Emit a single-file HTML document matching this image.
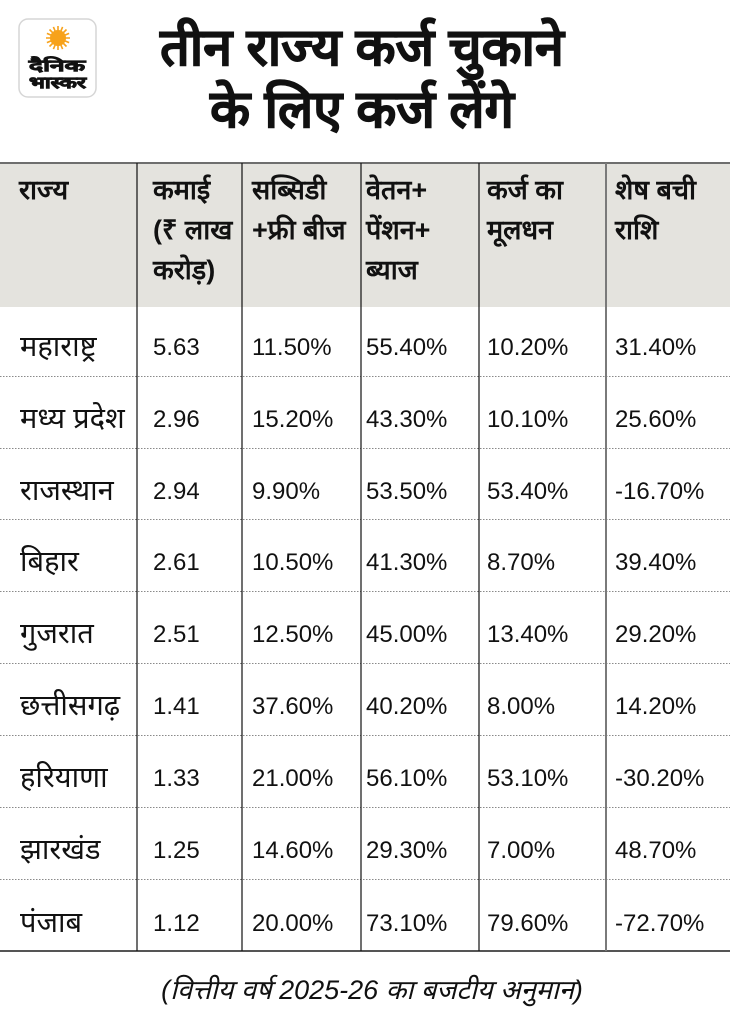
<!DOCTYPE html>
<html>
<head>
<meta charset="utf-8">
<style>
html,body{margin:0;padding:0;background:#fff;}
body{width:730px;height:1017px;overflow:hidden;}
svg{display:block;}
text{font-family:"Liberation Sans","Noto Sans CJK SC",sans-serif;fill:#111;}
.h{font-weight:bold;font-size:27px;}
.d{font-size:24px;}
.n{font-size:29px;}
</style>
</head>
<body>
<svg width="730" height="1017" viewBox="0 0 730 1017" xmlns="http://www.w3.org/2000/svg">
  <!-- logo -->
  <rect x="19" y="19" width="77" height="78" rx="9" ry="9" fill="#fff" stroke="#d6d6d6" stroke-width="1.5"/>
  <g fill="#f7a21b">
    <circle cx="58" cy="38" r="8"/>
    <g stroke="#f7a21b" stroke-width="1.6">
      <line x1="58" y1="26" x2="58" y2="50"/>
      <line x1="46" y1="38" x2="70" y2="38"/>
      <line x1="49.5" y1="29.5" x2="66.5" y2="46.5"/>
      <line x1="66.5" y1="29.5" x2="49.5" y2="46.5"/>
      <line x1="53.4" y1="26.9" x2="62.6" y2="49.1"/>
      <line x1="62.6" y1="26.9" x2="53.4" y2="49.1"/>
      <line x1="46.9" y1="33.4" x2="69.1" y2="42.6"/>
      <line x1="46.9" y1="42.6" x2="69.1" y2="33.4"/>
    </g>
  </g>
  <text x="29" y="71" textLength="56" lengthAdjust="spacingAndGlyphs" stroke="#111" stroke-width="0.8" style="font-weight:bold;font-size:16px;">दैनिक</text>
  <text x="29" y="88" textLength="57" lengthAdjust="spacingAndGlyphs" stroke="#111" stroke-width="0.8" style="font-weight:bold;font-size:16px;">भास्कर</text>

  <!-- title -->
  <text x="362" y="65" text-anchor="middle" stroke="#111" stroke-width="0.8" style="font-weight:bold;font-size:52px;">तीन राज्य कर्ज चुकाने</text>
  <text x="362" y="127" text-anchor="middle" stroke="#111" stroke-width="0.8" style="font-weight:bold;font-size:52px;">के लिए कर्ज लेंगे</text>

  <!-- header background -->
  <rect x="0" y="164" width="730" height="143" fill="#e4e3de"/>

  <!-- dotted separators -->
  <g stroke="#8a8a8a" stroke-width="1" stroke-dasharray="1.5,1.5">
    <line x1="0" y1="376.5" x2="730" y2="376.5"/>
    <line x1="0" y1="448.5" x2="730" y2="448.5"/>
    <line x1="0" y1="519.5" x2="730" y2="519.5"/>
    <line x1="0" y1="591.5" x2="730" y2="591.5"/>
    <line x1="0" y1="663.5" x2="730" y2="663.5"/>
    <line x1="0" y1="735.5" x2="730" y2="735.5"/>
    <line x1="0" y1="807.5" x2="730" y2="807.5"/>
    <line x1="0" y1="879.5" x2="730" y2="879.5"/>
  </g>

  <!-- borders -->
  <line x1="0" y1="163" x2="730" y2="163" stroke="#6e6e6e" stroke-width="2"/>
  <line x1="0" y1="951" x2="730" y2="951" stroke="#555" stroke-width="2"/>
  <g stroke="#111" stroke-width="1.2">
    <line x1="137" y1="163" x2="137" y2="951"/>
    <line x1="242" y1="163" x2="242" y2="951"/>
    <line x1="361" y1="163" x2="361" y2="951"/>
    <line x1="479" y1="163" x2="479" y2="951"/>
  </g>
  <line x1="606" y1="163" x2="606" y2="951" stroke="#7a7a7a" stroke-width="2"/>

  <!-- header text -->
  <g>
    <text class="h" x="19" y="199">राज्य</text>
    <text class="h" x="153" y="199">कमाई</text>
    <text class="h" x="153" y="239">(₹ लाख</text>
    <text class="h" x="153" y="279">करोड़)</text>
    <text class="h" x="252" y="199">सब्सिडी</text>
    <text class="h" x="252" y="239">+फ्री बीज</text>
    <text class="h" x="366" y="199">वेतन+</text>
    <text class="h" x="366" y="239">पेंशन+</text>
    <text class="h" x="366" y="279">ब्याज</text>
    <text class="h" x="487" y="199">कर्ज का</text>
    <text class="h" x="487" y="239">मूलधन</text>
    <text class="h" x="615" y="199">शेष बची</text>
    <text class="h" x="615" y="239">राशि</text>
  </g>

  <!-- rows -->
  <g>
    <text class="n" x="20" y="356">महाराष्ट्र</text>
    <text class="d" x="153" y="355">5.63</text>
    <text class="d" x="252" y="355">11.50%</text>
    <text class="d" x="366" y="355">55.40%</text>
    <text class="d" x="487" y="355">10.20%</text>
    <text class="d" x="615" y="355">31.40%</text>

    <text class="n" x="20" y="428">मध्य प्रदेश</text>
    <text class="d" x="153" y="427">2.96</text>
    <text class="d" x="252" y="427">15.20%</text>
    <text class="d" x="366" y="427">43.30%</text>
    <text class="d" x="487" y="427">10.10%</text>
    <text class="d" x="615" y="427">25.60%</text>

    <text class="n" x="20" y="500">राजस्थान</text>
    <text class="d" x="153" y="499">2.94</text>
    <text class="d" x="252" y="499">9.90%</text>
    <text class="d" x="366" y="499">53.50%</text>
    <text class="d" x="487" y="499">53.40%</text>
    <text class="d" x="615" y="499">-16.70%</text>

    <text class="n" x="20" y="571">बिहार</text>
    <text class="d" x="153" y="570">2.61</text>
    <text class="d" x="252" y="570">10.50%</text>
    <text class="d" x="366" y="570">41.30%</text>
    <text class="d" x="487" y="570">8.70%</text>
    <text class="d" x="615" y="570">39.40%</text>

    <text class="n" x="20" y="643">गुजरात</text>
    <text class="d" x="153" y="642">2.51</text>
    <text class="d" x="252" y="642">12.50%</text>
    <text class="d" x="366" y="642">45.00%</text>
    <text class="d" x="487" y="642">13.40%</text>
    <text class="d" x="615" y="642">29.20%</text>

    <text class="n" x="20" y="715">छत्तीसगढ़</text>
    <text class="d" x="153" y="714">1.41</text>
    <text class="d" x="252" y="714">37.60%</text>
    <text class="d" x="366" y="714">40.20%</text>
    <text class="d" x="487" y="714">8.00%</text>
    <text class="d" x="615" y="714">14.20%</text>

    <text class="n" x="20" y="787">हरियाणा</text>
    <text class="d" x="153" y="786">1.33</text>
    <text class="d" x="252" y="786">21.00%</text>
    <text class="d" x="366" y="786">56.10%</text>
    <text class="d" x="487" y="786">53.10%</text>
    <text class="d" x="615" y="786">-30.20%</text>

    <text class="n" x="20" y="859">झारखंड</text>
    <text class="d" x="153" y="858">1.25</text>
    <text class="d" x="252" y="858">14.60%</text>
    <text class="d" x="366" y="858">29.30%</text>
    <text class="d" x="487" y="858">7.00%</text>
    <text class="d" x="615" y="858">48.70%</text>

    <text class="n" x="20" y="932">पंजाब</text>
    <text class="d" x="153" y="931">1.12</text>
    <text class="d" x="252" y="931">20.00%</text>
    <text class="d" x="366" y="931">73.10%</text>
    <text class="d" x="487" y="931">79.60%</text>
    <text class="d" x="615" y="931">-72.70%</text>
  </g>

  <!-- footer -->
  <text x="372" y="999" text-anchor="middle" style="font-style:italic;font-size:27px;">(वित्तीय वर्ष 2025-26 का बजटीय अनुमान)</text>
</svg>
</body>
</html>
